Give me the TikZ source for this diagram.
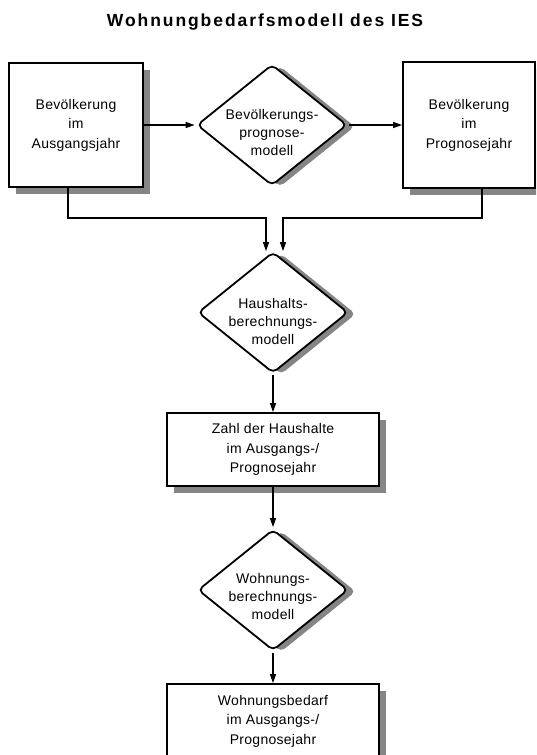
\documentclass[tikz,border=0pt]{standalone}
\usepackage{fontspec}
\setmainfont{Liberation Sans}
\newfontfamily\bodyfont[LetterSpace=2]{Liberation Sans}
\newfontfamily\headfont[LetterSpace=11]{Liberation Sans}
\usetikzlibrary{arrows.meta,shapes.geometric,shadows}
\definecolor{shadowgray}{HTML}{858585}
\begin{document}
\begin{tikzpicture}[x=1pt,y=-1pt,
  procbox/.style={draw=black,line width=1.8pt,fill=white,rectangle,inner sep=0pt,
    align=center,font=\bodyfont\fontsize{14}{19.5}\selectfont,
    drop shadow={shadow xshift=7pt,shadow yshift=-7pt,fill=shadowgray,opacity=1}},
  decision/.style={draw=black,line width=1.8pt,fill=white,diamond,inner sep=0pt,
    minimum width=150pt,minimum height=121pt,rounded corners=5pt,
    drop shadow={shadow xshift=8pt,shadow yshift=-1.5pt,fill=shadowgray,opacity=1}},
  dtext/.style={align=center,inner sep=0pt,font=\bodyfont\fontsize{14}{18}\selectfont},
  flow/.style={line width=1.2pt,-{Triangle[length=9pt,width=6pt]}}]
\clip (0,0) rectangle (536,755);
\fill[white] (0,0) rectangle (536,755);

% title
\node[font=\headfont\bfseries\fontsize{17.5}{20}\selectfont] (title) at (265,22)
  {Wohnungbedarfsmodell des IES};

% top row
\node[procbox,minimum width=134pt,minimum height=124pt] (lb) at (76,125)
  {Bevölkerung\\im\\Ausgangsjahr};
\node[decision] (d1) at (272,125) {};
\node[dtext] (d1t) at (272,132) {Bevölkerungs-\\prognose-\\modell};
\node[procbox,minimum width=132pt,minimum height=126pt] (rb) at (469,125)
  {Bevölkerung\\im\\Prognosejahr};

% household model
\node[decision] (d2) at (273,312.5) {};
\node[dtext] (d2t) at (273,321) {Haushalts-\\berechnungs-\\modell};
\node[procbox,minimum width=212pt,minimum height=73pt] (b3) at (273,449.5)
  {Zahl der Haushalte\\im Ausgangs-/\\Prognosejahr};

% dwelling model
\node[decision] (d3) at (273,590) {};
\node[dtext] (d3t) at (273,596) {Wohnungs-\\berechnungs-\\modell};
\node[procbox,minimum width=212pt,minimum height=74pt] (b4) at (273,721)
  {Wohnungsbedarf\\im Ausgangs-/\\Prognosejahr};

% connectors
\draw[flow,shorten >=1.5pt] (lb.east) -- (d1.west);
\draw[flow,shorten <=1.5pt] (d1.east) -- (rb.west);
\draw[flow] ([xshift=-8pt]lb.south) -- ++(0,30) -| ([xshift=-7pt]d2.north);
\draw[flow] ([xshift=13pt]rb.south) -- ++(0,29) -| ([xshift=10pt]d2.north);
\draw[flow,shorten <=1.5pt] (d2.south) -- (b3.north);
\draw[flow,shorten >=1.5pt] (b3.south) -- (d3.north);
\draw[flow,shorten <=1.5pt] (d3.south) -- (b4.north);
\end{tikzpicture}
\end{document}
